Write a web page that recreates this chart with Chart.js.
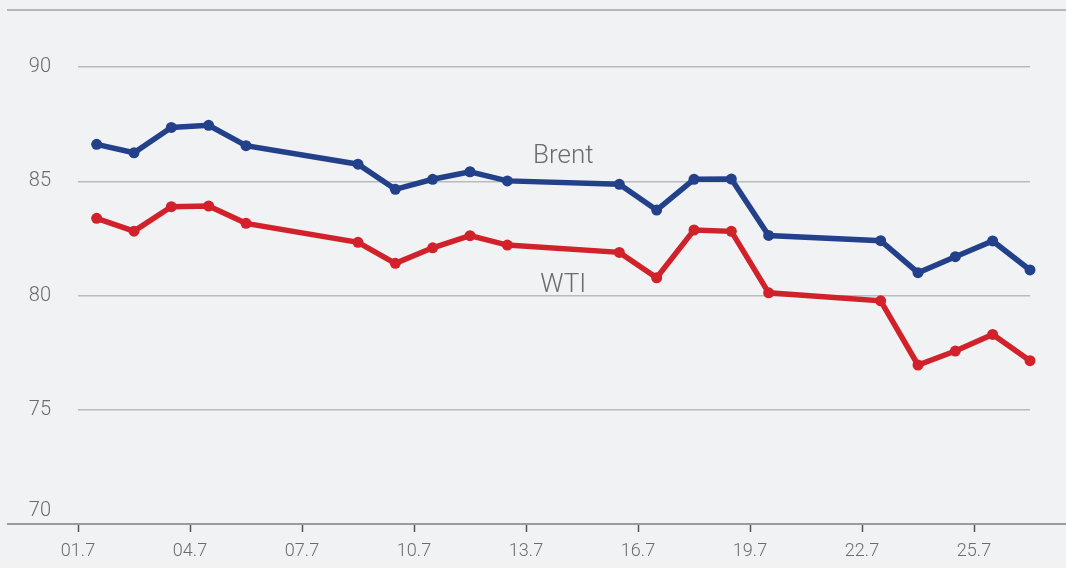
<!DOCTYPE html>
<html>
<head>
<meta charset="utf-8">
<script src="https://cdn.jsdelivr.net/npm/chart.js@4.4.1/dist/chart.umd.min.js"></script>
<style>
  html, body { margin: 0; padding: 0; background: #f1f2f4; }
  #wrap { width: 1066px; height: 568px; position: relative; }
</style>
</head>
<body>
<div id="wrap"><canvas id="oilChart"></canvas></div>
<script>
// --- DATA (July, trading days) ---
const days = [1, 2, 3, 4, 5, 8, 9, 10, 11, 12, 15, 16, 17, 18, 19, 22, 23, 24, 25, 26];
const brent = [86.62, 86.25, 87.36, 87.45, 86.56, 85.75, 84.65, 85.09, 85.42, 85.02,
               84.87, 83.74, 85.09, 85.10, 82.63, 82.40, 81.00, 81.70, 82.39, 81.12];
const wti = [83.38, 82.82, 83.89, 83.92, 83.16, 82.33, 81.41, 82.09, 82.62, 82.21,
             81.89, 80.78, 82.87, 82.81, 80.12, 79.77, 76.96, 77.57, 78.30, 77.15];
const xTickDays = [1, 4, 7, 10, 13, 16, 19, 22, 25];
const yTicks = [70, 75, 80, 85, 90];

const BLUE = '#23418a';
const RED = '#d1222b';
const TEXT = '#6b6b6b';

// closes are plotted at midday of their date, tick marks sit at the start of the day
const toPoints = vals => vals.map((v, i) => ({ x: days[i] + 0.5, y: v }));

// kill the automatic label padding so the plot area keeps its fixed frame
const noPad = s => { s.paddingTop = 0; s.paddingBottom = 0; s.paddingLeft = 0; s.paddingRight = 0; };

// --- full-width frame lines + series names ---
const framePlugin = {
    id: 'frame',
    beforeDatasetsDraw(chart) {
        const { ctx, chartArea } = chart;
        ctx.save();
        ctx.lineWidth = 2;
        ctx.strokeStyle = '#b4b5b7';
        ctx.beginPath();
        ctx.moveTo(7, chartArea.top);
        ctx.lineTo(chart.width, chartArea.top);
        ctx.stroke();
        ctx.strokeStyle = '#9a9b9d';
        ctx.beginPath();
        ctx.moveTo(7, chartArea.bottom);
        ctx.lineTo(chart.width, chartArea.bottom);
        ctx.stroke();
        ctx.restore();
    },
    afterDatasetsDraw(chart) {
        const { ctx, scales } = chart;
        ctx.save();
        ctx.font = '300 26px Roboto';
        ctx.fillStyle = TEXT;
        ctx.textAlign = 'center';
        ctx.textBaseline = 'middle';
        const x = scales.x.getPixelForValue(14);
        ctx.fillText('Brent', x, scales.y.getPixelForValue(86.08));
        ctx.fillText('WTI', x, scales.y.getPixelForValue(80.42));
        ctx.restore();
    }
};

const ctx = document.getElementById('oilChart').getContext('2d');
new Chart(ctx, {
    type: 'line',
    data: {
        datasets: [
            { label: 'Brent', data: toPoints(brent), borderColor: BLUE, backgroundColor: BLUE,
              pointBackgroundColor: BLUE, pointBorderColor: BLUE },
            { label: 'WTI', data: toPoints(wti), borderColor: RED, backgroundColor: RED,
              pointBackgroundColor: RED, pointBorderColor: RED }
        ]
    },
    options: {
        responsive: true,
        maintainAspectRatio: false,
        animation: false,
        layout: { autoPadding: false, padding: { left: 0, right: 36, top: 10, bottom: 0 } },
        elements: {
            line: { borderWidth: 5.5, tension: 0 },
            point: { radius: 5.5, borderWidth: 0, hoverRadius: 5.5 }
        },
        datasets: { line: { clip: false } },
        plugins: { legend: { display: false }, tooltip: { enabled: false } },
        scales: {
            x: {
                type: 'linear',
                min: 1,
                max: 26.5,
                afterBuildTicks: s => { s.ticks = xTickDays.map(v => ({ value: v })); },
                afterFit: s => { s.height = 44; noPad(s); },
                border: { display: false },
                grid: { drawOnChartArea: false, drawTicks: true, tickLength: 8, tickColor: '#555', tickWidth: 1.5 },
                ticks: {
                    autoSkip: false,
                    maxRotation: 0,
                    padding: 9,
                    color: TEXT,
                    font: { family: 'Roboto', size: 18, weight: 300 },
                    callback: v => String(v).padStart(2, '0') + '.7'
                }
            },
            y: {
                min: 70,
                max: 92.5,
                afterBuildTicks: s => { s.ticks = yTicks.map(v => ({ value: v })); },
                afterFit: s => { s.width = 78; noPad(s); },
                border: { display: false },
                grid: {
                    drawTicks: false,
                    lineWidth: 1.5,
                    color: c => (c.tick && c.tick.value === 70) ? 'rgba(0,0,0,0)' : '#b9babc'
                },
                ticks: {
                    padding: 27,
                    color: TEXT,
                    font: { family: 'Roboto', size: 20, weight: 300, lineHeight: 1.3 },
                    // bottom label sits above the axis line: blank second line lifts it
                    callback: v => v === 70 ? ['70', ''] : String(v)
                }
            }
        }
    },
    plugins: [framePlugin]
});
</script>
</body>
</html>
